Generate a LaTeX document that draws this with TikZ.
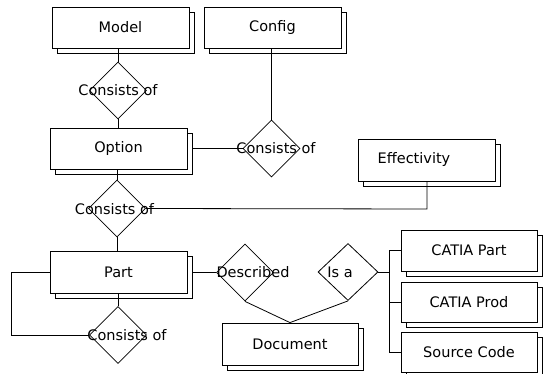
\documentclass[tikz,border=0pt]{standalone}
\usepackage{fontspec}
\setmainfont{DejaVu Sans}
\usetikzlibrary{shapes.geometric,shadows}
\begin{document}
\begin{tikzpicture}[x=1pt,y=-1pt,
  every node/.style={font=\fontsize{14.5}{16}\selectfont},
  entity/.style={draw, fill=white, line width=0.8pt, inner sep=0pt,
    minimum width=137pt, minimum height=41pt,
    copy shadow={shadow xshift=5pt, shadow yshift=-5pt}},
  relation/.style={draw, diamond, line width=0.8pt, inner sep=0pt,
    minimum width=57pt, minimum height=57pt},
  conn/.style={line width=0.8pt}]
\useasboundingbox (0,0) rectangle (544,374);

% entities
\node[entity] (model) at (120.5,27.5) {Model};
\node[entity] (config) at (272.5,27.5) {Config};
\node[entity] (option) at (118.5,148.5) {Option};
\node[entity, minimum height=42pt] (eff) at (426.5,160) {};
\node at (414,160) {Effectivity};
\node[entity, minimum height=42pt] (part) at (118.5,272) {Part};
\node[entity, minimum width=136pt, minimum height=42pt] (doc) at (290,344) {Document};
\node[entity, minimum width=136pt] (cpart) at (469,250.5) {CATIA Part};
\node[entity, minimum width=136pt, minimum height=40pt] (cprod) at (469,302) {CATIA Prod};
\node[entity, minimum width=136pt, minimum height=40pt] (src) at (469,352) {Source Code};

% relationships
\node[relation] (r1) at (118,90.5) {};
\node[relation] (r2) at (271.5,148.5) {};
\node[relation] (r3) at (117,208.5) {};
\node[relation] (r4) at (118,335) {};
\node[relation] (rdesc) at (245,272.5) {};
\node[relation, minimum width=60pt] (risa) at (348,272) {};

% connectors
\draw[conn] (r1.north) -- (r1.north |- model.south);
\draw[conn] (r1.south) -- (r1.south |- option.north);
\draw[conn] (r2.north) -- (r2.north |- config.south);
\draw[conn] ([xshift=5pt]option.east |- r2.west) -- (r2.west);
\draw[conn] (r3.north) -- (r3.north |- option.south);
\draw[conn] (r3.south) -- (r3.south |- part.north);
\coordinate (effdrop) at (427,209);
\draw[conn] (effdrop |- eff.south) -- (effdrop) -- (r3.east);
\draw[conn] (r4.north) -- (r4.north |- part.south);
\coordinate (loop) at (11,272);
\draw[conn] (part.west) -- (loop) -- (loop |- r4.west) -- (r4.west);
\draw[conn] ([xshift=5pt]part.east |- rdesc.west) -- (rdesc.west);
\draw[conn] (rdesc.south) -- (doc.north);
\draw[conn] (risa.south) -- (doc.north);
\coordinate (bus) at (389,272);
\draw[conn] (risa.east) -- (bus);
\draw[conn] (bus |- cpart.west) -- (bus |- src.west);
\draw[conn] (bus |- cpart.west) -- (cpart.west);
\draw[conn] (bus |- cprod.west) -- (cprod.west);
\draw[conn] (bus |- src.west) -- (src.west);

% relationship labels
\node at (118,90.5) {Consists of};
\node at (276,148) {Consists of};
\node at (114.5,209) {Consists of};
\node at (127,335) {Consists of};
\node at (253,272) {Described};
\node at (340,272) {Is a};
\end{tikzpicture}
\end{document}
